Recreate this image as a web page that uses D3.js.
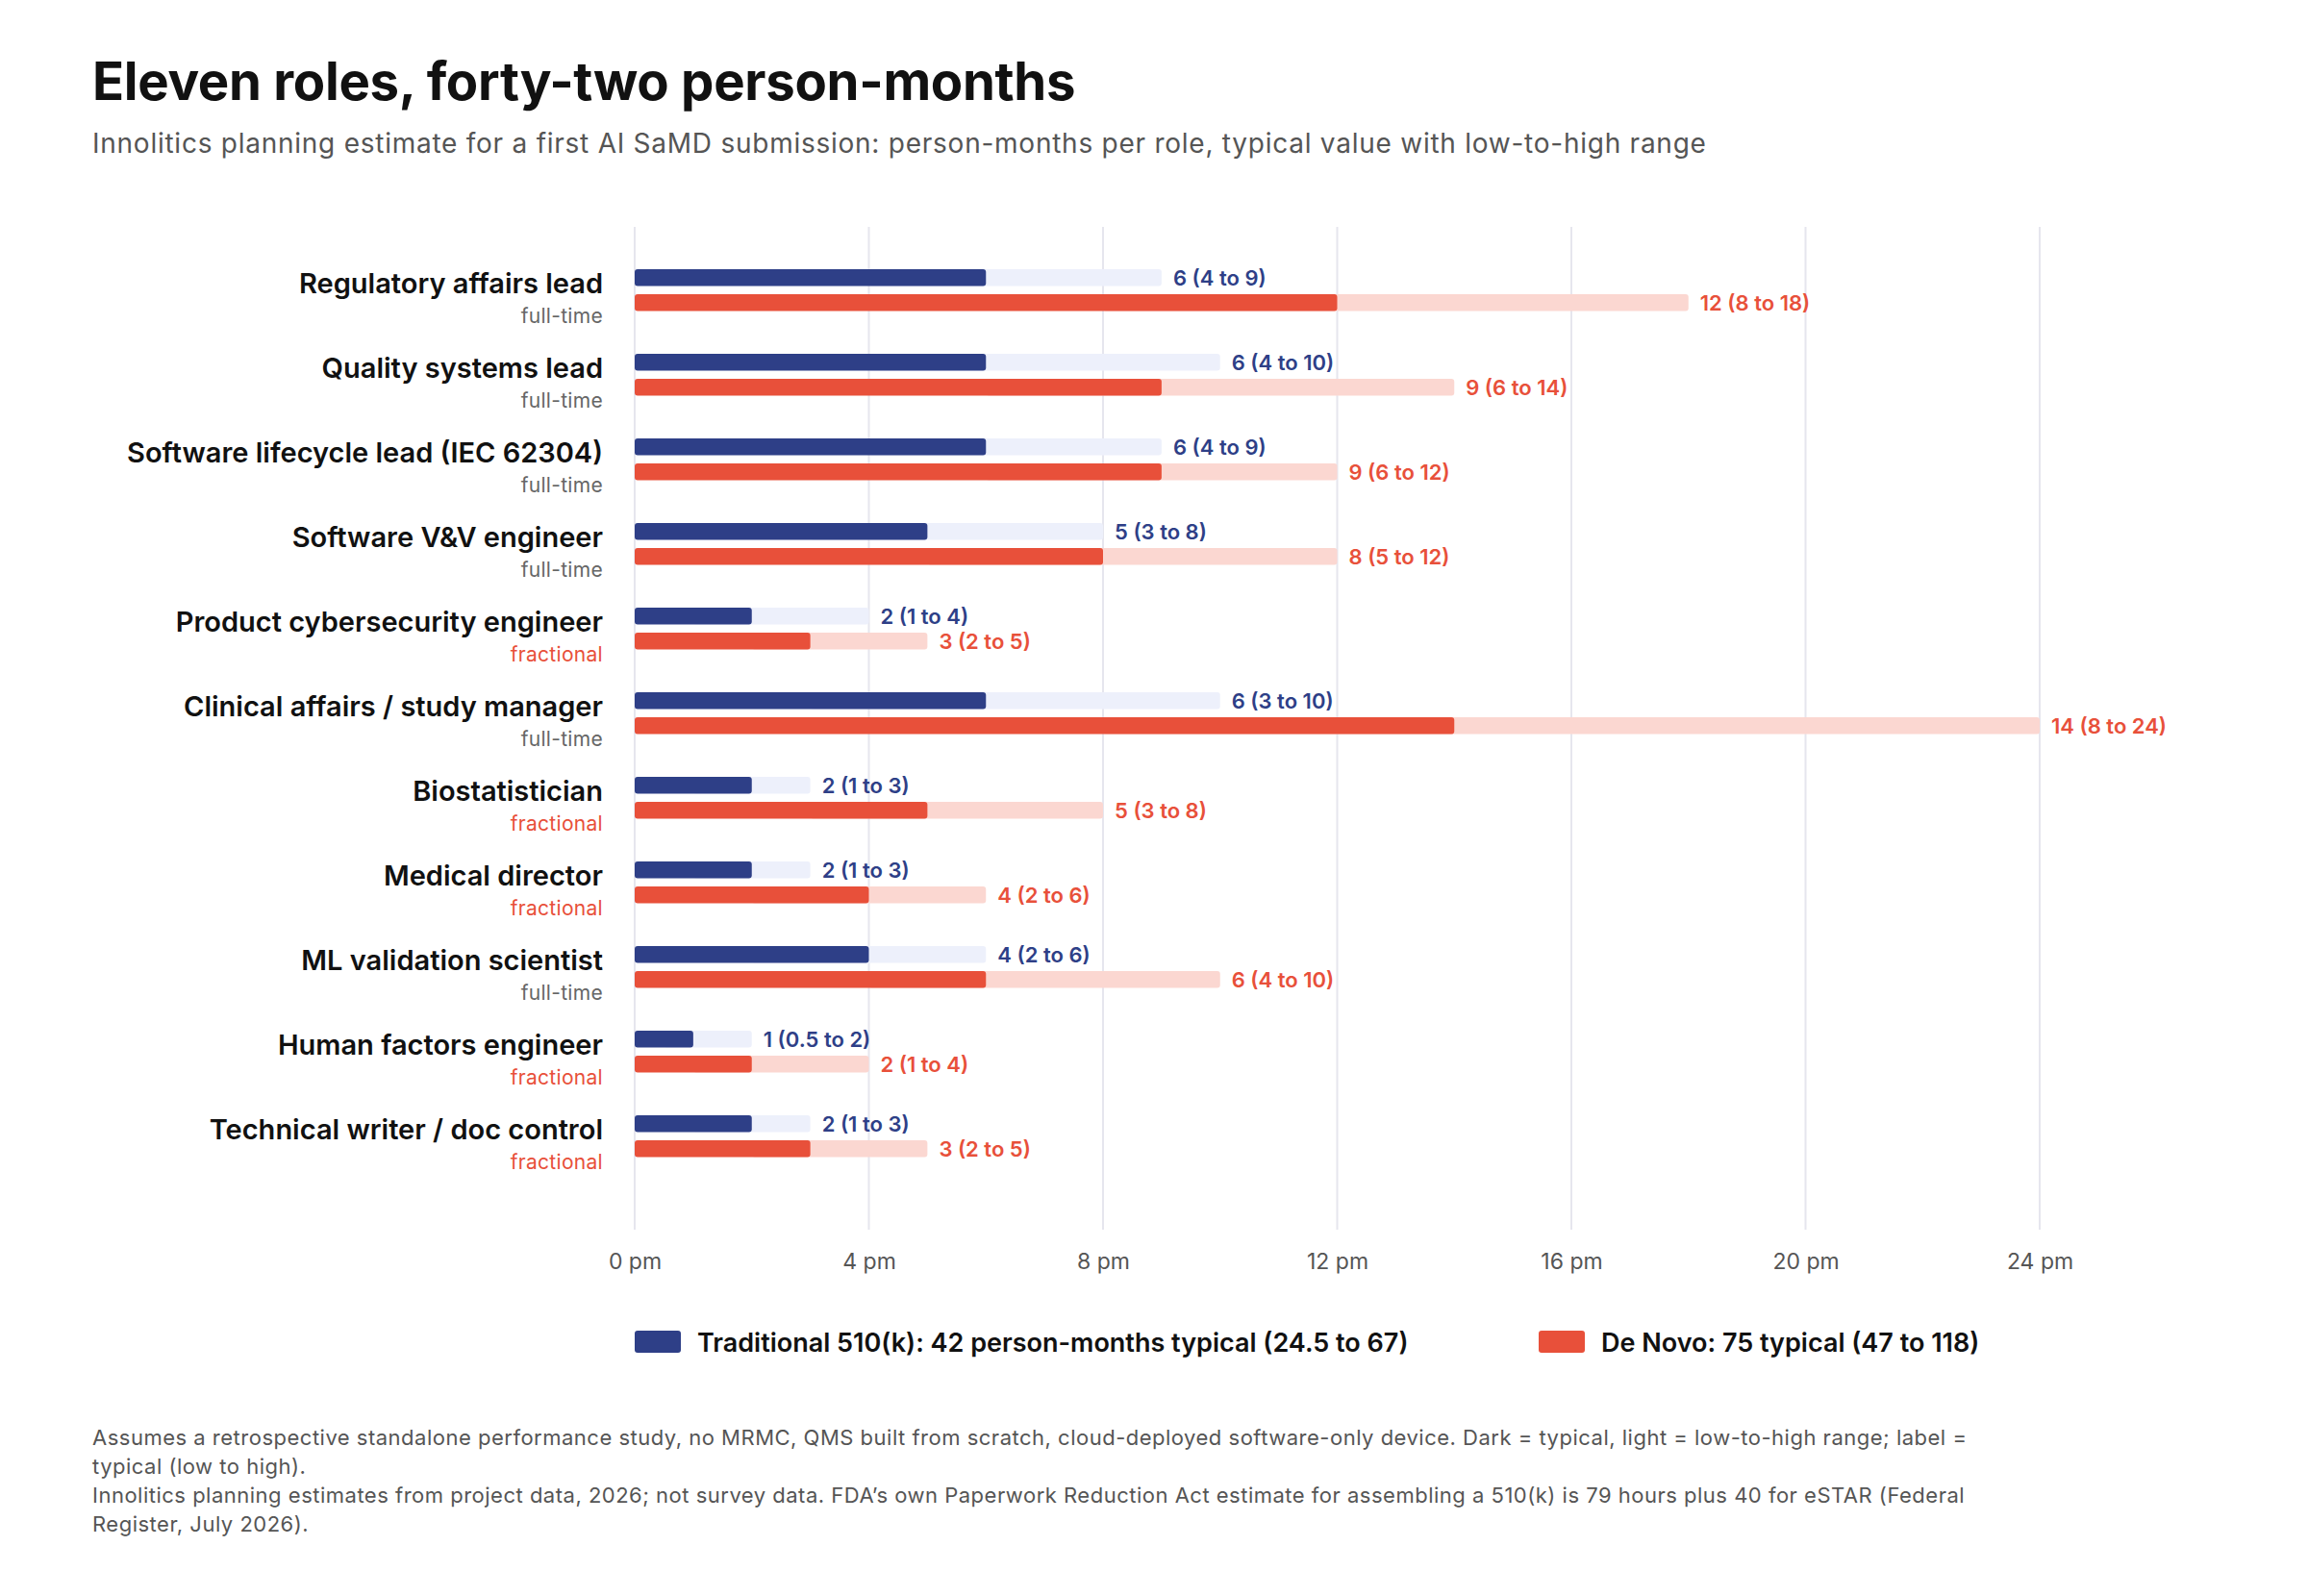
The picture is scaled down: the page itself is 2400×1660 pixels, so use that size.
<!DOCTYPE html>
<html>
<head>
<meta charset="utf-8">
<script src="https://cdn.jsdelivr.net/npm/d3@7"></script>
<style>
  html, body { margin: 0; padding: 0; background: #fff; }
  svg { display: block; }
  text { font-family: Inter, "Noto Sans", sans-serif; }
</style>
</head>
<body>
<svg id="chart" width="2400" height="1660"></svg>
<script>
const roles = [
  "Regulatory affairs lead",
  "Quality systems lead",
  "Software lifecycle lead (IEC 62304)",
  "Software V&V engineer",
  "Product cybersecurity engineer",
  "Clinical affairs / study manager",
  "Biostatistician",
  "Medical director",
  "ML validation scientist",
  "Human factors engineer",
  "Technical writer / doc control"
];
const roleTypes = ["full-time","full-time","full-time","full-time","fractional","full-time","fractional","fractional","full-time","fractional","fractional"];
const tradTypical = [6, 6, 6, 5, 2, 6, 2, 2, 4, 1, 2];
const tradLow     = [4, 4, 4, 3, 1, 3, 1, 1, 2, 0.5, 1];
const tradHigh    = [9, 10, 9, 8, 4, 10, 3, 3, 6, 2, 3];
const dnTypical   = [12, 9, 9, 8, 3, 14, 5, 4, 6, 2, 3];
const dnLow       = [8, 6, 6, 5, 2, 8, 3, 2, 4, 1, 2];
const dnHigh      = [18, 14, 12, 12, 5, 24, 8, 6, 10, 4, 5];
const xTicks = [0, 4, 8, 12, 16, 20, 24];
const legendLabels = [
  "Traditional 510(k): 42 person-months typical (24.5 to 67)",
  "De Novo: 75 typical (47 to 118)"
];
const titleText = "Eleven roles, forty-two person-months";
const subtitleText = "Innolitics planning estimate for a first AI SaMD submission: person-months per role, typical value with low-to-high range";
const footLines = [
  "Assumes a retrospective standalone performance study, no MRMC, QMS built from scratch, cloud-deployed software-only device. Dark = typical, light = low-to-high range; label =",
  "typical (low to high).",
  "Innolitics planning estimates from project data, 2026; not survey data. FDA\u2019s own Paperwork Reduction Act estimate for assembling a 510(k) is 79 hours plus 40 for eSTAR (Federal",
  "Register, July 2026)."
];

const fmt = v => String(v);
const C = {
  blue: "#2E3F87", blueLight: "#EDF0FB",
  red: "#E8503A", redLight: "#FBD7D1",
  grid: "#E6E6EE", ink: "#111111", gray: "#555555", sub: "#666666"
};

const svg = d3.select("#chart");

const x = d3.scaleLinear().domain([0, 24]).range([660, 2121]);
const y = d3.scaleBand().domain(roles).range([258, 258 + 88 * roles.length]).paddingInner(0).paddingOuter(0);
const barH = 17.5;
const offBlue = 22, offRed = 48;

// title
svg.append("text").attr("x", 96).attr("y", 104)
  .attr("font-size", 54.5).attr("font-weight", 700).attr("fill", C.ink)
  .attr("letter-spacing", -0.3)
  .text(titleText);
svg.append("text").attr("x", 96).attr("y", 159)
  .attr("font-size", 28).attr("font-weight", 400).attr("fill", C.gray)
  .attr("letter-spacing", 0.75)
  .text(subtitleText);

// grid
const gGrid = svg.append("g");
gGrid.selectAll("line").data(xTicks).join("line")
  .attr("x1", d => x(d)).attr("x2", d => x(d))
  .attr("y1", 236).attr("y2", 1279)
  .attr("stroke", C.grid).attr("stroke-width", 2);

// x axis labels using d3 axis
const axis = d3.axisBottom(x).tickValues(xTicks).tickSize(0).tickPadding(0).tickFormat(d => d + " pm");
const gAxis = svg.append("g").attr("transform", "translate(0,1299)").call(axis);
gAxis.select(".domain").remove();
gAxis.selectAll("text").attr("font-size", 23).attr("fill", C.gray)
  .attr("font-family", 'Inter, "Noto Sans", sans-serif').attr("dy", "0.9em");

// rows
const rows = roles.map((r, i) => ({
  role: r, type: roleTypes[i],
  t: [tradLow[i], tradTypical[i], tradHigh[i]],
  d: [dnLow[i], dnTypical[i], dnHigh[i]]
}));

const gRows = svg.append("g");
const row = gRows.selectAll("g.row").data(rows).join("g").attr("class", "row")
  .attr("transform", d => `translate(0,${y(d.role)})`);

// left labels
row.append("text").attr("x", 627).attr("y", 47).attr("text-anchor", "end")
  .attr("font-size", 29).attr("font-weight", 600).attr("fill", C.ink)
  .text(d => d.role);
row.append("text").attr("x", 627).attr("y", 78).attr("text-anchor", "end")
  .attr("font-size", 21).attr("font-weight", 400)
  .attr("fill", d => d.type === "fractional" ? C.red : C.sub)
  .attr("letter-spacing", 0.3)
  .text(d => d.type);

function series(key, off, dark, light) {
  // light range bar low..high
  row.append("rect")
    .attr("x", d => x(d[key][0])).attr("y", off)
    .attr("width", d => x(d[key][2]) - x(d[key][0])).attr("height", barH)
    .attr("rx", 3).attr("fill", light);
  // dark typical bar 0..typical
  row.append("rect")
    .attr("x", x(0)).attr("y", off)
    .attr("width", d => x(d[key][1]) - x(0)).attr("height", barH)
    .attr("rx", 3).attr("fill", dark);
  row.append("text")
    .attr("x", d => x(d[key][2]) + 12).attr("y", off + barH / 2)
    .attr("dominant-baseline", "central")
    .attr("font-size", 22).attr("font-weight", 600).attr("fill", dark)
    .text(d => `${fmt(d[key][1])} (${fmt(d[key][0])} to ${fmt(d[key][2])})`);
}
series("t", offBlue, C.blue, C.blueLight);
series("d", offRed, C.red, C.redLight);

// legend
const legend = svg.append("g");
const legX = [660, 1600];
legendLabels.forEach((lab, i) => {
  legend.append("rect").attr("x", legX[i]).attr("y", 1384).attr("width", 48).attr("height", 23)
    .attr("rx", 3).attr("fill", i === 0 ? C.blue : C.red);
  legend.append("text").attr("x", legX[i] + 65).attr("y", 1396)
    .attr("dominant-baseline", "central")
    .attr("font-size", 27).attr("font-weight", 600).attr("fill", C.ink)
    .text(lab);
});

// footnote
svg.append("g").selectAll("text").data(footLines).join("text")
  .attr("x", 96).attr("y", (d, i) => 1503 + i * 30)
  .attr("font-size", 22).attr("fill", C.gray)
  .attr("letter-spacing", 0.5)
  .text(d => d);
</script>
</body>
</html>
